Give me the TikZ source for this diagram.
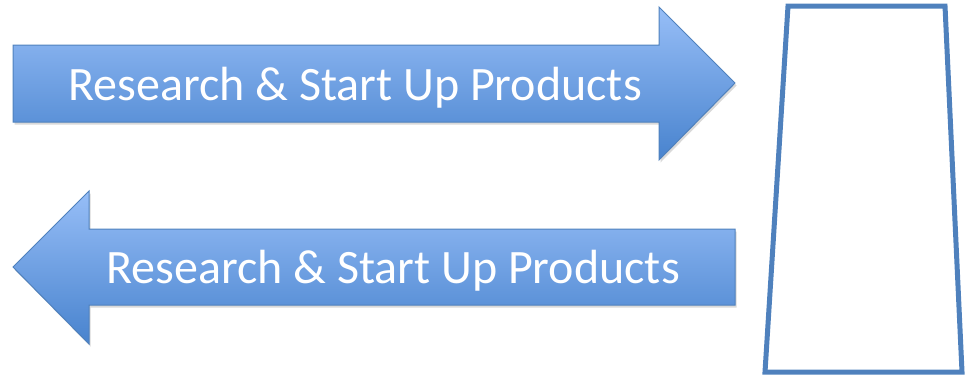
\documentclass[tikz,border=0pt]{standalone}
\usepackage{fontspec}
\setmainfont{Carlito}
\usetikzlibrary{shadows}
\definecolor{edgeblue}{RGB}{79,129,189}
\definecolor{toplight}{RGB}{151,190,247}
\definecolor{botdark}{RGB}{72,131,206}
\tikzset{
  bigarrow/.style={draw=edgeblue, line width=1pt, top color=toplight, bottom color=botdark,
    drop shadow={shadow xshift=1.5pt, shadow yshift=-2.5pt, opacity=0.25, fill=black!60}},
  arrowtext/.style={text=white, font=\fontsize{48}{54}\selectfont, inner sep=0pt, anchor=base},
  frame/.style={draw=edgeblue, line width=5pt, line join=miter}
}
\begin{document}
\begin{tikzpicture}[x=1pt,y=-1pt]
\useasboundingbox (0,0) rectangle (968,378);
% top arrow (right)
\path[bigarrow] (13,45) -- (659,45) -- (659,7) -- (735,83) -- (659,160) -- (659,122) -- (13,122) -- cycle;
\node[arrowtext] (t1) at (355,100) {Research \& Start Up Products};
% bottom arrow (left)
\path[bigarrow] (735,229) -- (89,229) -- (89,191) -- (13,267) -- (89,344) -- (89,305) -- (735,305) -- cycle;
\node[arrowtext] (t2) at (393,283) {Research \& Start Up Products};
% trapezoid
\draw[frame] (788,6) -- (945,6) -- (962,372) -- (765,372) -- cycle;
\end{tikzpicture}
\end{document}
